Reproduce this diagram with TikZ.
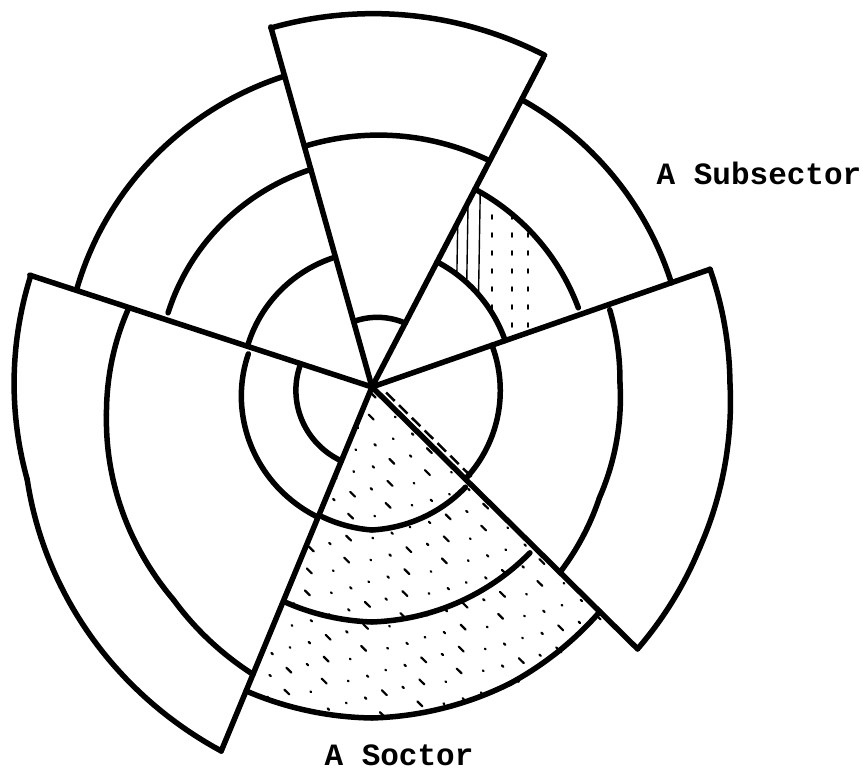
\documentclass[tikz,border=0pt]{standalone}
\usepackage{fontspec}
\newfontfamily\twfont{Liberation Mono}
\begin{document}
\begin{tikzpicture}[x=1pt,y=1pt]
\tikzset{
  ring/.style={line width=5.5pt, line cap=round, line join=round},
  hatchline/.style={line width=1.4pt, line cap=round},
  stipple/.style={line width=2.2pt, line cap=round},
  lbl/.style={font=\twfont\bfseries\fontsize{31}{31}\selectfont, inner sep=0pt}
}
\useasboundingbox (-372,-383) rectangle (491,387);
\coordinate (O) at (0,0);

% stippled sector (bottom)
\begin{scope}
\clip (O) -- (247.5:330) arc[start angle=247.5, end angle=315.4, radius=330pt] -- cycle;
\foreach \d [evaluate=\d as \ph using {mod(\d*13,47)}] in {5,22,...,300}
  \draw[stipple, dash pattern=on 2pt off 19pt on 7pt off 27pt on 1pt off 23pt, dash phase=\ph pt] (-134.6:\d) -- ++(-44.6:420);
\end{scope}

% hatched subsector (upper right)
\begin{scope}
\clip (19.2:222) arc[start angle=19.2, end angle=62.5, radius=222pt] -- (62.5:141) arc[start angle=62.5, end angle=19.2, radius=141pt] -- cycle;
\foreach \xx in {84,94,106}
  \draw[hatchline] (\xx,60) -- (\xx+3,240);
\foreach \xx in {120,140,156}
  \draw[hatchline, line width=1.8pt, dash pattern=on 4pt off 14pt] (\xx,60) -- (\xx,240);
\end{scope}

% rays
\foreach \a/\r in {105.7/374, 62.5/371, 161.9/360, 247.5/394, 315.4/373, 19.2/358}
  \draw[ring] (O) -- (\a:\r);
% broken second line beside the lower right ray
\draw[line width=2.5pt, dash pattern=on 12pt off 6pt] (-44.6:14) ++(45.4:6) -- ++(-44.6:120);

% rings (start angle / end angle / start radius / end radius)
\foreach \a/\b/\ra/\rb in {
  62.5/105.7/374/373, 62.5/105.7/255/250, 62.5/105.7/72/68,
  105.7/161.9/323/311, 105.7/160/226/217, 105.7/161.9/135/131,
  161.9/195/359/357, 195/247.5/357/394,
  162.5/186/256/267, 186/227/267/291, 227/247.5/291/311,
  165/247.5/128/141, 162.5/247.5/75/80,
  247.5/270/329/331, 270/295/331/327, 295/315.4/327/320,
  248/270/232/235, 270/313.6/235/229,
  249/270/139/143, 270/313/143/137,
  -44.6/-26/373/365, -26/0.6/365/358, 0.6/19.2/358/358,
  -44.6/-26/264/253, -26/1/253/248, 1/18/248/250,
  -43.5/19.2/131/127,
  19.2/62.5/317/324, 21/62.5/221/223, 19.2/62.5/141/141}
  \draw[ring] plot[domain=\a:\b, samples=40] (\x:{\ra+(\x-\a)/(\b-\a)*(\rb-\ra)});

\node[lbl] (sub) at (387,214) {A Subsector};
\node[lbl] (sec) at (27,-368) {A Soctor};
\end{tikzpicture}
\end{document}
